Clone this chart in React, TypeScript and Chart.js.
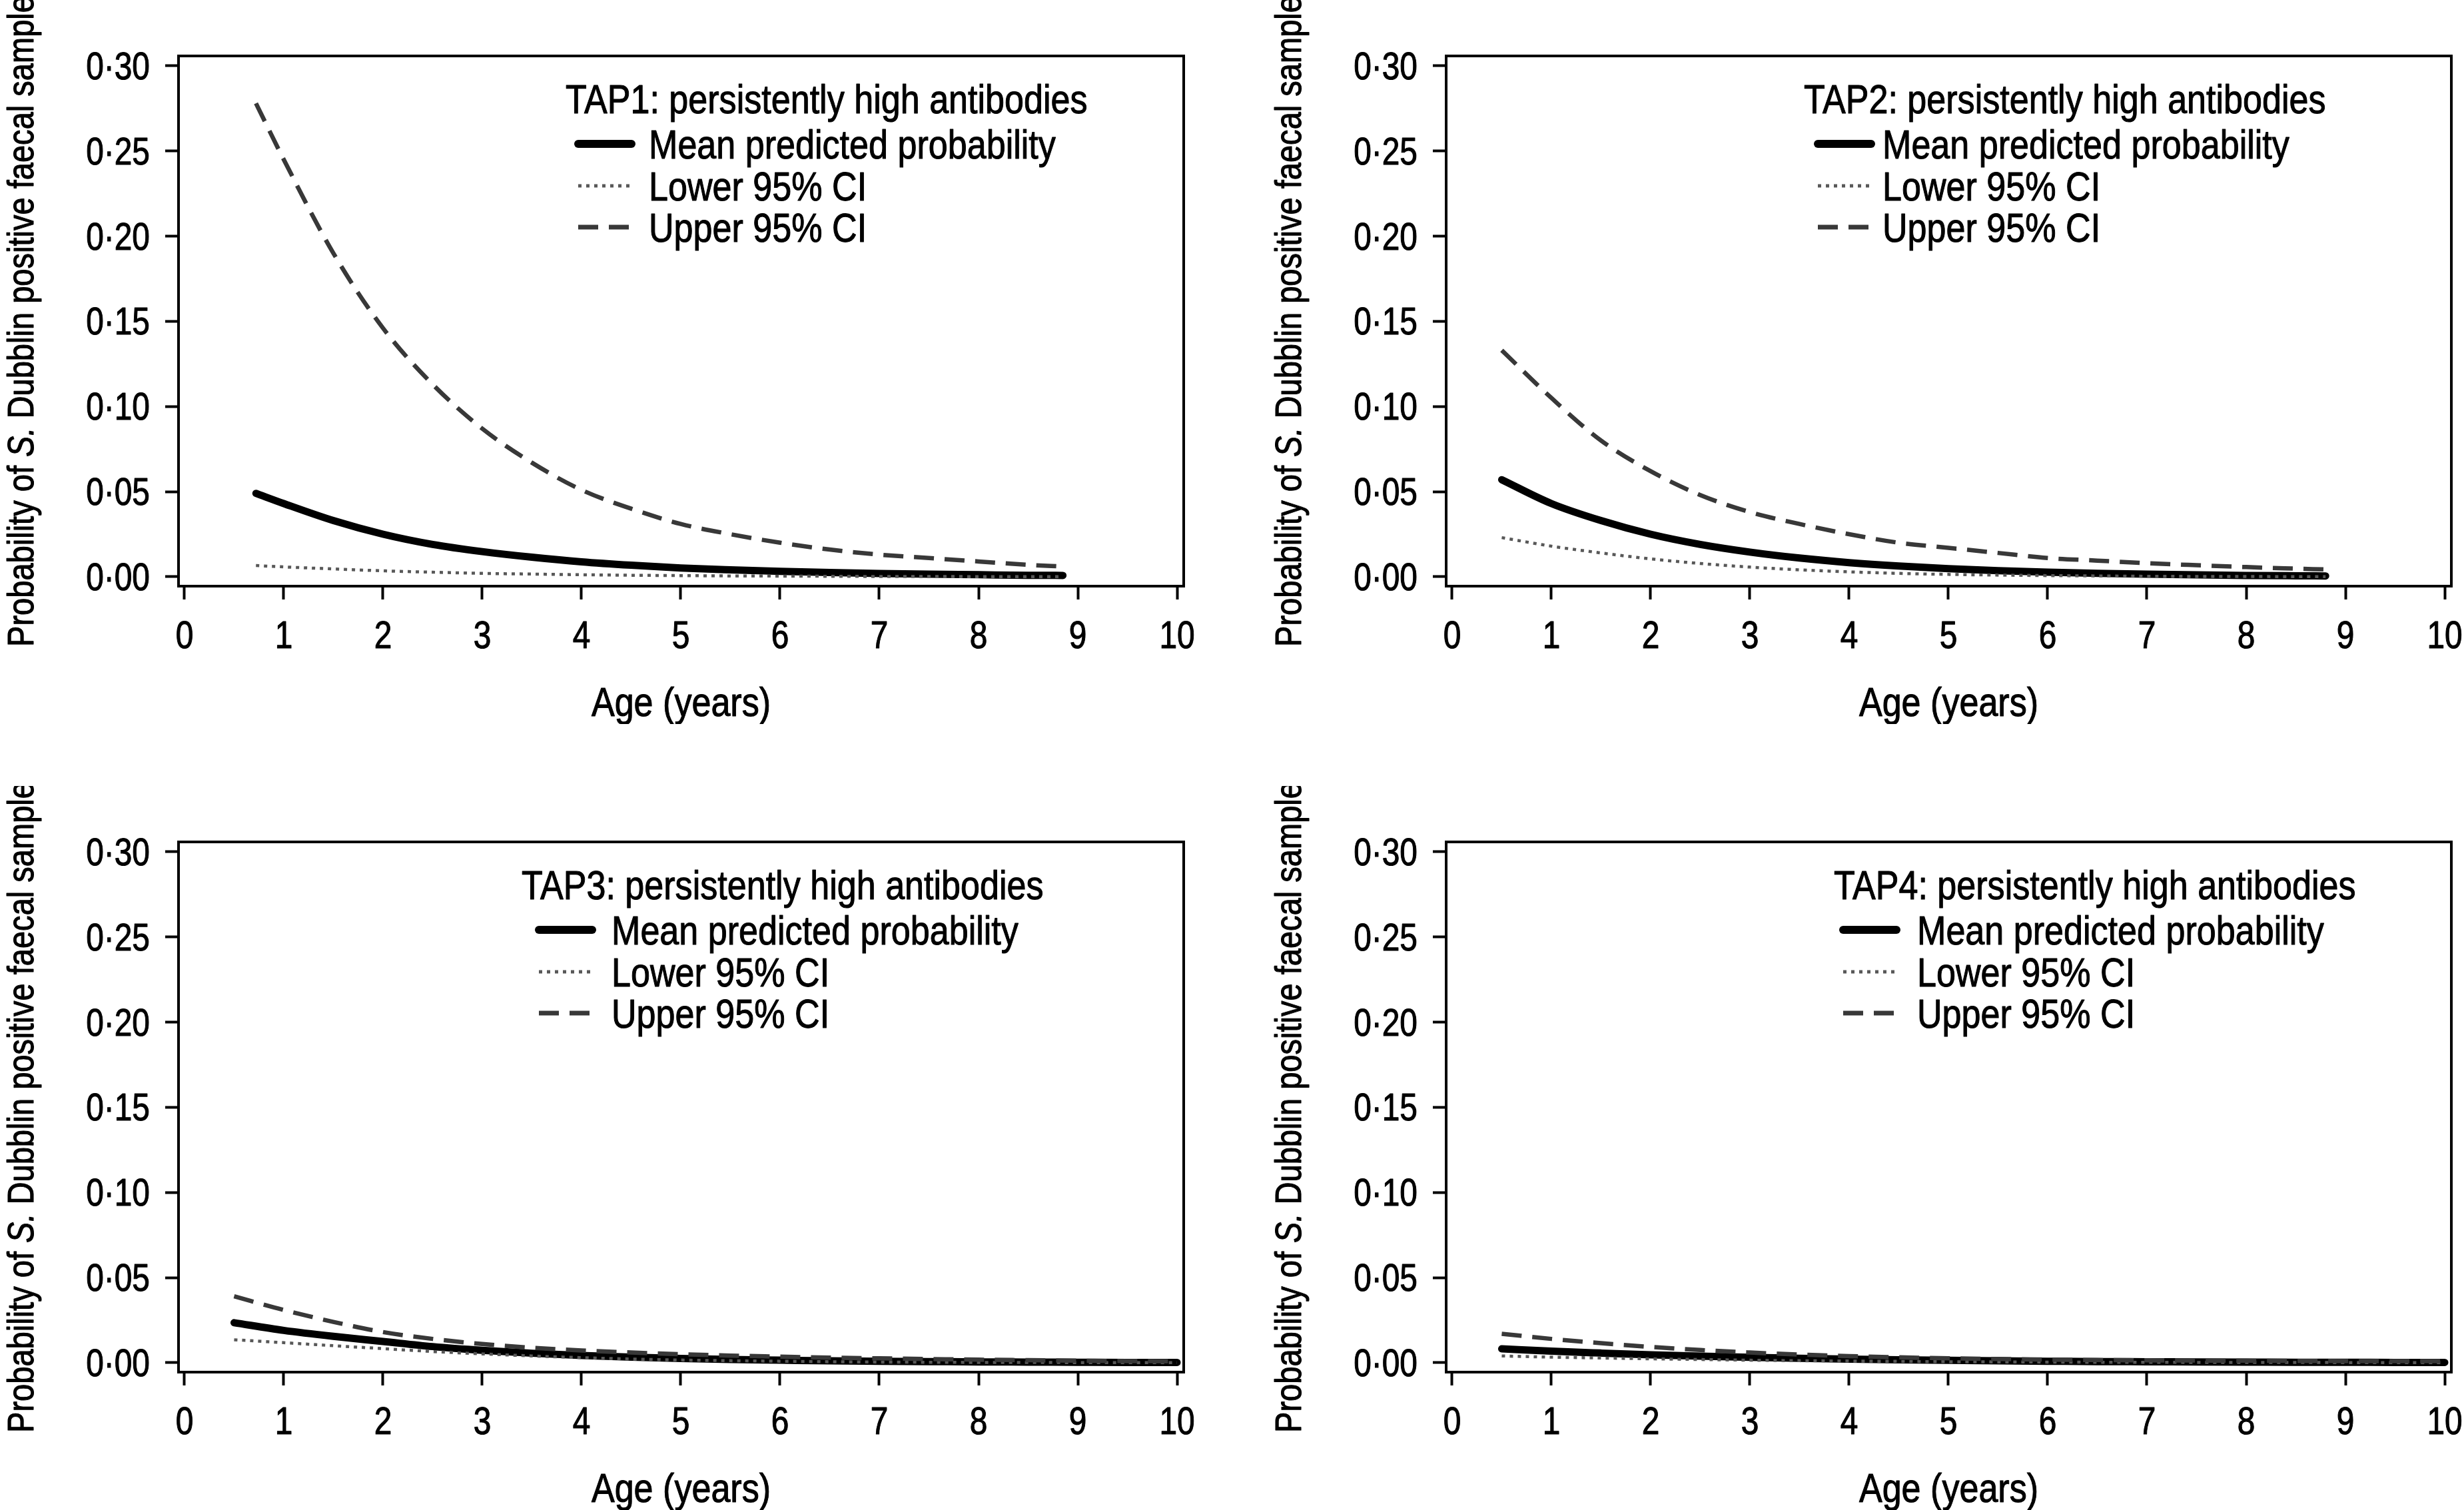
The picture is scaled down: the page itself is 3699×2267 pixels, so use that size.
import React, { useEffect, useRef } from 'react';
import { Chart, registerables } from 'chart.js';

Chart.register(...registerables);

// ---------- data ----------
const X_TICKS = [0, 1, 2, 3, 4, 5, 6, 7, 8, 9, 10];
const Y_TICKS = [0, 0.05, 0.1, 0.15, 0.2, 0.25, 0.3];
const X_TITLE = 'Age (years)';
const Y_TITLE_PARTS = [
  { text: 'Probability of ', italic: false },
  { text: 'S.', italic: true },
  { text: ' Dubblin positive faecal sample', italic: false },
];
const SERIES_LABELS = ['Mean predicted probability', 'Lower 95% CI', 'Upper 95% CI'];
const PANEL_TITLES = [
  'TAP1: persistently high antibodies',
  'TAP2: persistently high antibodies',
  'TAP3: persistently high antibodies',
  'TAP4: persistently high antibodies',
];

const TAP1_AGE = [0.72, 1, 1.5, 2, 2.5, 3, 3.5, 4, 4.5, 5, 5.5, 6, 6.5, 7, 7.5, 8, 8.5, 8.85];
const TAP1_MEAN = [0.049, 0.043, 0.033, 0.025, 0.019, 0.0148, 0.0115, 0.0088, 0.0068, 0.0052, 0.0041, 0.0032, 0.0025, 0.0019, 0.0015, 0.0012, 0.0009, 0.0008];
const TAP1_LOWER = [0.0066, 0.0058, 0.0046, 0.0035, 0.0027, 0.002, 0.0016, 0.0012, 0.0009, 0.0007, 0.0005, 0.0004, 0.0003, 0.0002, 0.0002, 0.0001, 0.0001, 0.0001];
const TAP1_UPPER = [0.278, 0.245, 0.19, 0.146, 0.113, 0.087, 0.067, 0.051, 0.04, 0.031, 0.025, 0.02, 0.016, 0.013, 0.011, 0.009, 0.007, 0.006];

const TAP2_AGE = [0.5, 1, 1.5, 2, 2.5, 3, 3.5, 4, 4.5, 5, 5.5, 6, 6.5, 7, 7.5, 8, 8.5, 8.8];
const TAP2_MEAN = [0.057, 0.043, 0.033, 0.025, 0.019, 0.0145, 0.011, 0.0083, 0.0063, 0.0048, 0.0036, 0.0027, 0.002, 0.0015, 0.0011, 0.0008, 0.0006, 0.0005];
const TAP2_LOWER = [0.023, 0.018, 0.014, 0.0105, 0.0078, 0.0057, 0.0041, 0.0029, 0.002, 0.0014, 0.001, 0.0007, 0.0005, 0.0003, 0.0002, 0.00015, 0.0001, 0.0001];
const TAP2_UPPER = [0.133, 0.105, 0.08, 0.062, 0.048, 0.038, 0.031, 0.025, 0.02, 0.017, 0.014, 0.011, 0.0095, 0.008, 0.0068, 0.0057, 0.0048, 0.0043];

const TAP3_AGE = [0.5, 1, 1.5, 2, 2.5, 3, 3.5, 4, 4.5, 5, 5.5, 6, 6.5, 7, 7.5, 8, 8.5, 9, 9.5, 10];
const TAP3_MEAN = [0.0235, 0.019, 0.0155, 0.0125, 0.0095, 0.0073, 0.0056, 0.0043, 0.0033, 0.0025, 0.0019, 0.0015, 0.0011, 0.0009, 0.0007, 0.0005, 0.0004, 0.0003, 0.0002, 0.0002];
const TAP3_LOWER = [0.0135, 0.0118, 0.01, 0.0083, 0.0066, 0.0052, 0.004, 0.003, 0.0022, 0.0016, 0.0012, 0.0009, 0.0006, 0.0004, 0.0003, 0.0002, 0.0002, 0.0001, 0.0001, 0.0001];
const TAP3_UPPER = [0.039, 0.031, 0.024, 0.018, 0.014, 0.011, 0.0088, 0.0072, 0.006, 0.005, 0.0042, 0.0036, 0.003, 0.0026, 0.0022, 0.0018, 0.0015, 0.0012, 0.001, 0.0008];

const TAP4_AGE = [0.5, 1, 1.5, 2, 2.5, 3, 3.5, 4, 4.5, 5, 5.5, 6, 6.5, 7, 7.5, 8, 8.5, 9, 9.5, 10];
const TAP4_MEAN = [0.0082, 0.0068, 0.0057, 0.0047, 0.0039, 0.0032, 0.0026, 0.0021, 0.0017, 0.0014, 0.0011, 0.0009, 0.0007, 0.0006, 0.0005, 0.0004, 0.0003, 0.0003, 0.0002, 0.0002];
const TAP4_LOWER = [0.004, 0.0033, 0.0028, 0.0023, 0.0019, 0.0015, 0.0012, 0.001, 0.0008, 0.0006, 0.0005, 0.0004, 0.0003, 0.0003, 0.0002, 0.0002, 0.0002, 0.0001, 0.0001, 0.0001];
const TAP4_UPPER = [0.017, 0.014, 0.0115, 0.0093, 0.0075, 0.006, 0.0048, 0.0039, 0.0032, 0.0026, 0.0022, 0.0019, 0.0016, 0.0014, 0.0013, 0.0012, 0.0011, 0.001, 0.001, 0.0009];

// ---------- layout / style ----------
const FONT_FAMILY = "'Liberation Sans', Arimo, Arial, sans-serif";
const NARROW = 0.84; // horizontal condensing to mimic Helvetica Narrow
const TEXT_STROKE = 1.1; // slight emboldening
const CANVAS_W = 1796;
const CANVAS_H = 1087;
const BOX_LEFT = 268;
const BOX_TOP = 84;
const BOX_RIGHT_PAD = 19;
const X_AXIS_H = 207;
const X_MIN = -0.06;
const X_MAX = 10.067;
const Y_MIN = -0.0055;
const Y_MAX = 0.3058;

const PANELS = [
  { title: PANEL_TITLES[0], age: TAP1_AGE, mean: TAP1_MEAN, lower: TAP1_LOWER, upper: TAP1_UPPER, left: 0, top: 0, titleX: 849, sampleX: 868, textX: 974 },
  { title: PANEL_TITLES[1], age: TAP2_AGE, mean: TAP2_MEAN, lower: TAP2_LOWER, upper: TAP2_UPPER, left: 1903, top: 0, titleX: 805, sampleX: 826, textX: 923 },
  { title: PANEL_TITLES[2], age: TAP3_AGE, mean: TAP3_MEAN, lower: TAP3_LOWER, upper: TAP3_UPPER, left: 0, top: 1180, titleX: 783, sampleX: 809, textX: 918 },
  { title: PANEL_TITLES[3], age: TAP4_AGE, mean: TAP4_MEAN, lower: TAP4_LOWER, upper: TAP4_UPPER, left: 1903, top: 1180, titleX: 850, sampleX: 864, textX: 975 },
];

function paintText(ctx: CanvasRenderingContext2D, text: string, x: number, y: number) {
  ctx.fillStyle = '#000';
  ctx.strokeStyle = '#000';
  ctx.lineWidth = TEXT_STROKE;
  ctx.lineJoin = 'round';
  ctx.setLineDash([]);
  ctx.fillText(text, x, y);
  ctx.strokeText(text, x, y);
}

function narrowText(ctx: CanvasRenderingContext2D, text: string, x: number, y: number, align: CanvasTextAlign, font: string) {
  ctx.save();
  ctx.translate(x, y);
  ctx.scale(NARROW, 1);
  ctx.font = font;
  ctx.textAlign = align;
  ctx.textBaseline = 'alphabetic';
  paintText(ctx, text, 0, 0);
  ctx.restore();
}

const rPlugin = {
  id: 'rdecor',
  afterDraw(chart: any, _args: any, opts: any) {
    const { ctx, chartArea: a } = chart;
    const xs = chart.scales.x;
    const ys = chart.scales.y;
    ctx.save();
    // box
    ctx.lineWidth = 4;
    ctx.strokeStyle = '#000';
    ctx.setLineDash([]);
    ctx.strokeRect(a.left, a.top, a.right - a.left, a.bottom - a.top);

    // tick labels (positions from the chart's scales)
    const tickFont = `57px ${FONT_FAMILY}`;
    xs.ticks.forEach((t: any) => {
      narrowText(ctx, String(t.value), xs.getPixelForValue(t.value), a.bottom + 93, 'center', tickFont);
    });
    ys.ticks.forEach((t: any) => {
      const lbl = Number(t.value).toFixed(2).replace('.', '\u00b7');
      narrowText(ctx, lbl, a.left - 43, ys.getPixelForValue(t.value) + 20, 'right', tickFont);
    });

    // x title
    narrowText(ctx, X_TITLE, (a.left + a.right) / 2, a.bottom + 195, 'center', `62px ${FONT_FAMILY}`);

    // y title with italic "S."
    ctx.save();
    const cy = (a.top + a.bottom) / 2;
    ctx.translate(opts.yTitleX, cy);
    ctx.rotate(-Math.PI / 2);
    ctx.scale(NARROW, 1);
    ctx.textBaseline = 'alphabetic';
    ctx.textAlign = 'left';
    const fN = `56px ${FONT_FAMILY}`;
    const fI = `italic 56px ${FONT_FAMILY}`;
    let total = 0;
    const widths = Y_TITLE_PARTS.map((p) => {
      ctx.font = p.italic ? fI : fN;
      const w = ctx.measureText(p.text).width;
      total += w;
      return w;
    });
    let xx = -total / 2;
    Y_TITLE_PARTS.forEach((p, i) => {
      ctx.font = p.italic ? fI : fN;
      paintText(ctx, p.text, xx, 0);
      xx += widths[i];
    });
    ctx.restore();

    // legend
    const legFont = `62px ${FONT_FAMILY}`;
    narrowText(ctx, opts.title, opts.titleX, opts.baseY[0], 'left', legFont);
    chart.data.datasets.forEach((ds: any, i: number) => {
      const by = opts.baseY[i + 1];
      const ly = by - 22;
      ctx.save();
      ctx.strokeStyle = ds.borderColor;
      ctx.lineWidth = ds.legendWidth || ds.borderWidth;
      ctx.lineCap = ds.borderCapStyle || 'butt';
      ctx.setLineDash(ds.borderDash || []);
      ctx.beginPath();
      ctx.moveTo(opts.sampleX, ly);
      ctx.lineTo(opts.sampleX + opts.sampleLen, ly);
      ctx.stroke();
      ctx.restore();
      narrowText(ctx, ds.label, opts.textX, by, 'left', legFont);
    });
    ctx.restore();
  },
};

function toPoints(xs: number[], ys: number[]) {
  return xs.map((x, i) => ({ x, y: ys[i] }));
}

function Panel({ cfg }: { cfg: (typeof PANELS)[number] }) {
  const ref = useRef<HTMLCanvasElement | null>(null);
  useEffect(() => {
    if (!ref.current) return;
    const gridOpts = {
      display: true,
      drawOnChartArea: false,
      drawTicks: true,
      tickLength: 20,
      tickWidth: 4,
      tickColor: '#000',
    };
    const chart = new Chart(ref.current, {
      type: 'line',
      data: {
        datasets: [
          {
            label: SERIES_LABELS[0],
            data: toPoints(cfg.age, cfg.mean),
            borderColor: '#000000',
            borderWidth: 11,
            legendWidth: 12,
            borderCapStyle: 'round',
            pointRadius: 0,
            cubicInterpolationMode: 'monotone',
            order: 3,
          },
          {
            label: SERIES_LABELS[1],
            data: toPoints(cfg.age, cfg.lower),
            borderColor: '#585858',
            borderWidth: 4.5,
            legendWidth: 5,
            borderDash: [5, 7],
            borderCapStyle: 'butt',
            pointRadius: 0,
            cubicInterpolationMode: 'monotone',
            order: 2,
          },
          {
            label: SERIES_LABELS[2],
            data: toPoints(cfg.age, cfg.upper),
            borderColor: '#383838',
            borderWidth: 6.5,
            legendWidth: 7,
            borderDash: [30, 16],
            borderCapStyle: 'butt',
            pointRadius: 0,
            cubicInterpolationMode: 'monotone',
            order: 1,
          },
        ] as any,
      },
      options: {
        animation: false,
        responsive: false,
        maintainAspectRatio: false,
        events: [],
        layout: { padding: { left: 0, top: BOX_TOP, right: BOX_RIGHT_PAD, bottom: 0 } },
        plugins: {
          legend: { display: false },
          tooltip: { enabled: false },
          rdecor: {
            title: cfg.title,
            titleX: cfg.titleX,
            sampleX: cfg.sampleX,
            sampleLen: 80,
            textX: cfg.textX,
            baseY: [170, 238, 301, 363],
            yTitleX: 50,
          },
        } as any,
        scales: {
          x: {
            type: 'linear',
            min: X_MIN,
            max: X_MAX,
            afterBuildTicks: (s: any) => {
              s.ticks = X_TICKS.map((v) => ({ value: v }));
            },
            afterFit: (s: any) => {
              s.height = X_AXIS_H;
            },
            ticks: { display: false, autoSkip: false },
            grid: gridOpts,
            border: { display: false },
            title: { display: false },
          },
          y: {
            type: 'linear',
            min: Y_MIN,
            max: Y_MAX,
            afterBuildTicks: (s: any) => {
              s.ticks = Y_TICKS.map((v) => ({ value: v }));
            },
            afterFit: (s: any) => {
              s.width = BOX_LEFT;
            },
            ticks: { display: false, autoSkip: false },
            grid: gridOpts,
            border: { display: false },
          },
        },
      } as any,
      plugins: [rPlugin as any],
    });
    return () => chart.destroy();
  }, [cfg]);
  return (
    <canvas
      ref={ref}
      width={CANVAS_W}
      height={CANVAS_H}
      style={{ position: 'absolute', left: cfg.left, top: cfg.top, width: CANVAS_W, height: CANVAS_H }}
    />
  );
}

export default function App() {
  useEffect(() => {
    document.body.style.margin = '0';
    document.body.style.overflow = 'hidden';
    document.body.style.background = '#fff';
  }, []);
  return (
    <div style={{ position: 'absolute', left: 0, top: 0, width: 3699, height: 2267, background: '#fff', overflow: 'hidden' }}>
      {PANELS.map((p, i) => (
        <Panel key={i} cfg={p} />
      ))}
    </div>
  );
}
